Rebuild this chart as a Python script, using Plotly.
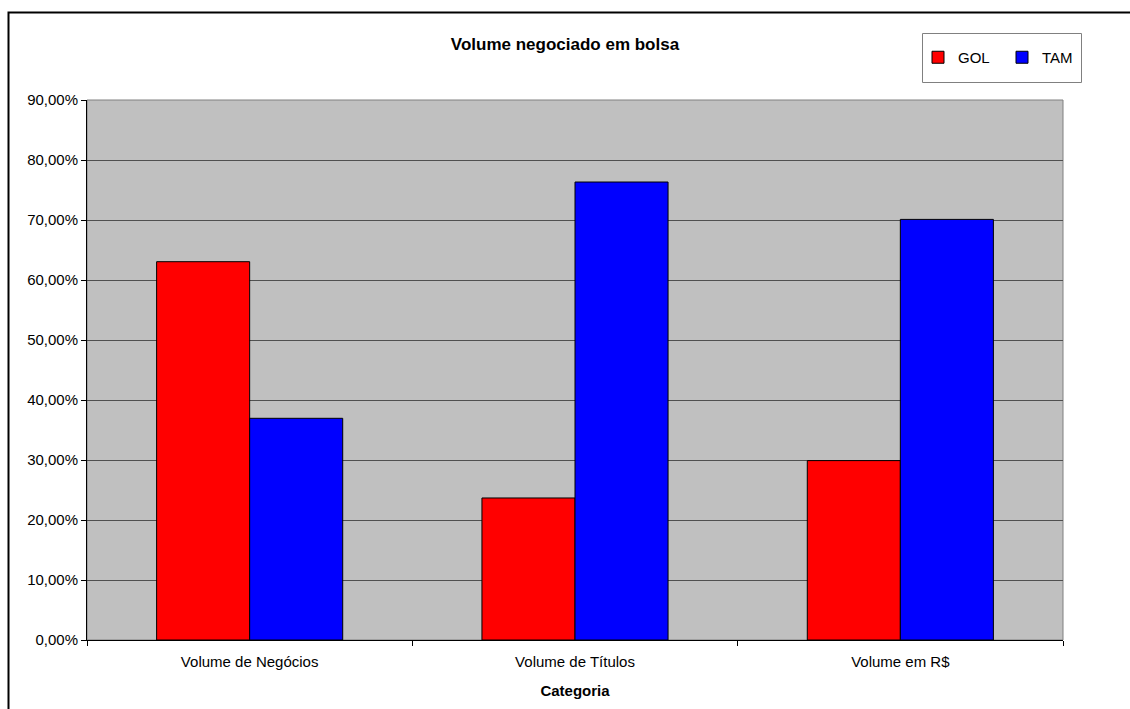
import plotly.graph_objects as go

categories = ["Volume de Negócios", "Volume de Títulos", "Volume em R$"]
gol = [63.05, 23.67, 29.90]
tam = [36.95, 76.33, 70.10]
tick_vals = [0, 10, 20, 30, 40, 50, 60, 70, 80, 90]
tick_text = ["0,00%", "10,00%", "20,00%", "30,00%", "40,00%", "50,00%",
             "60,00%", "70,00%", "80,00%", "90,00%"]

FONT = "Liberation Sans, Arial, sans-serif"

L, R, T, B = 87, 1063, 100, 640
PW, PH = R - L, B - T


def px(x):
    return (x - L) / PW


def py(y):
    return (B - y) / PH


fig = go.Figure()
fig.add_trace(go.Bar(name="GOL", x=categories, y=gol,
                     marker=dict(color="#FF0000", line=dict(color="black", width=1))))
fig.add_trace(go.Bar(name="TAM", x=categories, y=tam,
                     marker=dict(color="#0000FF", line=dict(color="black", width=1))))

fig.update_layout(
    width=1130, height=709,
    margin=dict(l=L, r=1130 - R, t=T, b=709 - B, autoexpand=False),
    paper_bgcolor="white",
    plot_bgcolor="#C0C0C0",
    barmode="group",
    bargap=0.428,
    bargroupgap=0,
    font=dict(family=FONT, size=15, color="black"),
    title=dict(text="<b>Volume negociado em bolsa</b>", x=0.5, xref="container",
               y=1 - 44 / 709, yref="container", yanchor="middle",
               font=dict(family=FONT, size=17, color="black")),
    legend=dict(orientation="h", x=px(918), y=py(57.5),
                xanchor="left", yanchor="middle",
                bgcolor="rgba(0,0,0,0)", borderwidth=0,
                font=dict(family=FONT, size=15, color="black"),
                entrywidth=39, entrywidthmode="pixels"),
    xaxis=dict(
        title=dict(text="<b>Categoria</b>", font=dict(family=FONT, size=15, color="black"),
                   standoff=16),
        tickson="boundaries", ticks="outside", ticklen=5, tickcolor="black",
        showline=True, linecolor="black", linewidth=1,
        showgrid=False, tickfont=dict(family=FONT, size=15, color="black"),
        ticklabelstandoff=8,
    ),
    yaxis=dict(
        range=[0, 90], tickvals=tick_vals, ticktext=tick_text,
        ticks="outside", ticklen=5, tickcolor="black",
        showline=True, linecolor="black", linewidth=1,
        showgrid=True, gridcolor="#505050", gridwidth=1,
        zeroline=False, tickfont=dict(family=FONT, size=15, color="black"),
    ),
    shapes=[
        dict(type="rect", xref="paper", yref="paper", x0=0, x1=1, y0=0, y1=1,
             line=dict(color="#808080", width=1), layer="below"),
        dict(type="rect", xref="paper", yref="paper",
             x0=px(922.5), x1=px(1081.5), y0=py(82.5), y1=py(33.5),
             line=dict(color="#808080", width=1), fillcolor="white", layer="below"),
        dict(type="rect", xref="paper", yref="paper",
             x0=px(8.5), x1=px(1145), y0=py(725), y1=py(12.5),
             line=dict(color="black", width=2)),
    ],
)

fig.write_html("out.html")
